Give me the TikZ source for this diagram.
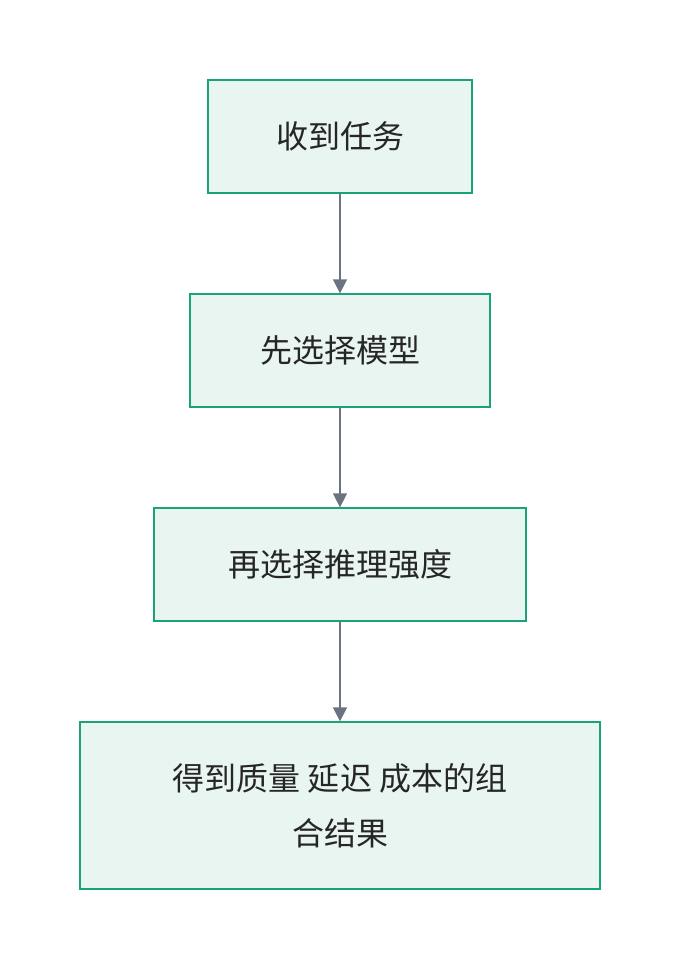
\documentclass[tikz,border=0pt]{standalone}
\usepackage{fontspec}
\newfontfamily\cjk{Noto Sans CJK SC}
\usetikzlibrary{arrows.meta}
\definecolor{boxfill}{HTML}{E8F5F0}
\definecolor{boxline}{HTML}{1AA37A}
\definecolor{arr}{HTML}{6B7280}
\begin{document}
\begin{tikzpicture}[x=1pt,y=-1pt,
  box/.style={draw=boxline,fill=boxfill,line width=1.3pt,inner sep=0pt,font=\cjk\fontsize{32}{55}\selectfont,text=black!85,align=center},
  conn/.style={draw=arr,line width=1.3pt,-{Triangle[length=14pt,width=14pt]}}]
\useasboundingbox (0,0) rectangle (680,970);
\node[box,minimum width=264pt,minimum height=113pt] (a) at (340,136.5) {收到任务};
\node[box,minimum width=300pt,minimum height=113pt] (b) at (340,350.5) {先选择模型};
\node[box,minimum width=372pt,minimum height=113pt] (c) at (340,564.5) {再选择推理强度};
\node[box,minimum width=520pt,minimum height=167pt] (d) at (340,805.5) {得到质量 延迟 成本的组\\合结果};
\draw[conn] (a) -- (b);
\draw[conn] (b) -- (c);
\draw[conn] (c) -- (d);
\end{tikzpicture}
\end{document}
